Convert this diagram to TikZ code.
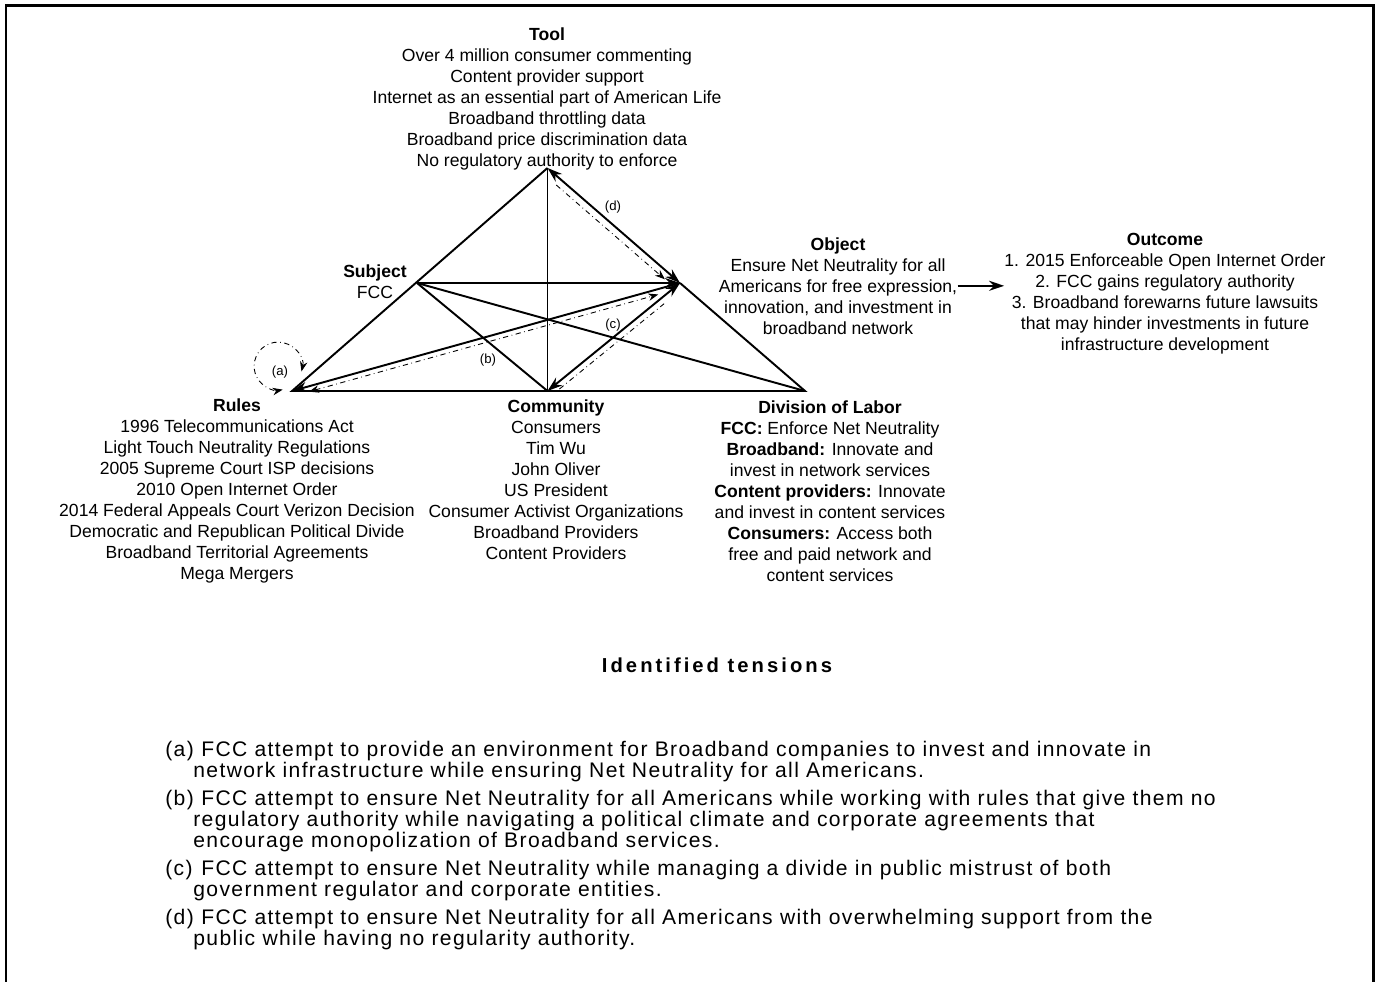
\documentclass[tikz,border=0pt]{standalone}
\usepackage{fontspec}
\setmainfont{Liberation Sans}
\newfontfamily\listfont[LetterSpace=6.5]{Liberation Sans}
\newfontfamily\headfont[LetterSpace=15]{Liberation Sans}
\usetikzlibrary{arrows.meta,calc}

\begin{document}
\begin{tikzpicture}[
        >={Stealth[length=3mm,width=2mm]},
        label_text/.style={align=center, inner sep=0pt, anchor=north, font=\fontsize{10}{11.95}\selectfont},
        edge_line/.style={line width=1.1pt},
        tension_line/.style={dash dot, line width=0.5pt, >={Stealth[length=2mm,width=1.5mm]}},
        tension_tag/.style={inner sep=1pt, font=\fontsize{7.5}{9}\selectfont},
        item_tag/.style={inner sep=0pt, anchor=north west, font=\listfont\fontsize{12}{11.95}\selectfont},
        item_text/.style={align=left, inner sep=0pt, anchor=north west, font=\listfont\fontsize{12}{11.95}\selectfont},
        frame_line/.style={line width=1.7pt},
        arrow/.style={->, line width=1.1pt}
    ]
        \useasboundingbox (0,0) rectangle (27.54,19.62);

        % Frame
        \coordinate (frame_bl) at (0.12,-0.3);
        \coordinate (frame_tr) at (27.46,19.50);
        \coordinate (frame_br) at (27.46,-0.3);
        \draw[frame_line] (frame_bl) |- (frame_tr) -- (frame_br);

        % Corners of the activity triangle
        \coordinate (tool) at (10.95,16.26);
        \coordinate (subject) at (8.34,13.96);
        \coordinate (rules) at (5.84,11.80);
        \coordinate (community) at (10.95,11.80);
        \coordinate (labor) at (16.10,11.80);
        \coordinate (object) at (13.60,13.96);

        % Triangle lines
        \draw[edge_line] (object) -- (labor) -- (rules) -- (tool);
        \draw[edge_line, <->] (tool) -- (object);
        \draw[edge_line] (tool) -- (community);
        \draw[edge_line, ->] (subject) -- (object);
        \draw[edge_line] (subject) -- (community);
        \draw[edge_line] (subject) -- (labor);
        \draw[edge_line, ->] (object) -- (rules);
        \draw[edge_line, <->] (community) -- (object);

        % Tensions
        \draw[tension_line, <->] ([shift={(0.19,0.39)}]rules) arc[start angle=-13, end angle=281, radius=0.48cm];
        \draw[tension_line, <->] ($(rules)!0.04!(object) + (0.03,-0.1)$) -- ($(object)!0.06!(rules) + (0.03,-0.1)$);
        \draw[tension_line] ($(community)!0.06!(object) + (0.08,-0.09)$) -- ($(community)!0.85!(object) + (0.08,-0.09)$);
        \draw[tension_line, ->] ($(tool)!0.1!(object) + (-0.09,-0.11)$) -- ($(tool)!0.92!(object) + (-0.09,-0.11)$);
        \node[tension_tag] (tag_a) at (5.60,12.18) {(a)};
        \node[tension_tag] (tag_b) at (9.76,12.42) {(b)};
        \node[tension_tag] (tag_c) at (12.26,13.12) {(c)};
        \node[tension_tag] (tag_d) at (12.26,15.48) {(d)};

        % Tool
        \node[label_text] (tool_text) at (10.94,19.07) {\textbf{Tool}\\Over 4 million consumer commenting\\Content provider support\\Internet as an essential part of American Life\\Broadband throttling data\\Broadband price discrimination data\\No regulatory authority to enforce};

        % Subject
        \node[label_text] (subject_text) at (7.50,14.34) {\textbf{Subject}\\FCC};

        % Object
        \node[label_text] (object_text) at (16.76,14.88) {\textbf{Object}\\Ensure Net Neutrality for all\\Americans for free expression,\\innovation, and investment in\\broadband network};

        % Outcome
        \node[label_text] (outcome_text) at (23.30,14.96) {\textbf{Outcome}\\1. 2015 Enforceable Open Internet Order\\2. FCC gains regulatory authority\\3. Broadband forewarns future lawsuits\\that may hinder investments in future\\infrastructure development};
        \draw[arrow] (object_text.east) -- (object_text.east -| outcome_text.west);

        % Rules
        \node[label_text] (rules_text) at (4.74,11.66) {\textbf{Rules}\\1996 Telecommunications Act\\Light Touch Neutrality Regulations\\2005 Supreme Court ISP decisions\\2010 Open Internet Order\\2014 Federal Appeals Court Verizon Decision\\Democratic and Republican Political Divide\\Broadband Territorial Agreements\\Mega Mergers};

        % Community
        \node[label_text] (community_text) at (11.12,11.64) {\textbf{Community}\\Consumers\\Tim Wu\\John Oliver\\US President\\Consumer Activist Organizations\\Broadband Providers\\Content Providers};

        % Division of Labor
        \node[label_text] (labor_text) at (16.60,11.62) {\textbf{Division of Labor}\\\textbf{FCC:} Enforce Net Neutrality\\\textbf{Broadband:} Innovate and\\invest in network services\\\textbf{Content providers:} Innovate\\and invest in content services\\\textbf{Consumers:} Access both\\free and paid network and\\content services};

        % Identified tensions
        \node[font=\headfont\bfseries\fontsize{11.5}{14}\selectfont] (tension_head) at (14.34,6.32) {Identified tensions};

        \node[item_tag] (item_a) at (3.30,4.80) {(a)};
        \node[item_text] (item_a_text) at (3.86,4.80) {\hspace*{0.16cm}FCC attempt to provide an environment for Broadband companies to invest and innovate in\\network infrastructure while ensuring Net Neutrality for all Americans.};
        \node[item_tag] (item_b) at (3.30,3.82) {(b)};
        \node[item_text] (item_b_text) at (3.86,3.82) {\hspace*{0.16cm}FCC attempt to ensure Net Neutrality for all Americans while working with rules that give them no\\regulatory authority while navigating a political climate and corporate agreements that\\encourage monopolization of Broadband services.};
        \node[item_tag] (item_c) at (3.30,2.42) {(c)};
        \node[item_text] (item_c_text) at (3.86,2.42) {\hspace*{0.16cm}FCC attempt to ensure Net Neutrality while managing a divide in public mistrust of both\\government regulator and corporate entities.};
        \node[item_tag] (item_d) at (3.30,1.44) {(d)};
        \node[item_text] (item_d_text) at (3.86,1.44) {\hspace*{0.16cm}FCC attempt to ensure Net Neutrality for all Americans with overwhelming support from the\\public while having no regularity authority.};

    \end{tikzpicture}
\end{document}
